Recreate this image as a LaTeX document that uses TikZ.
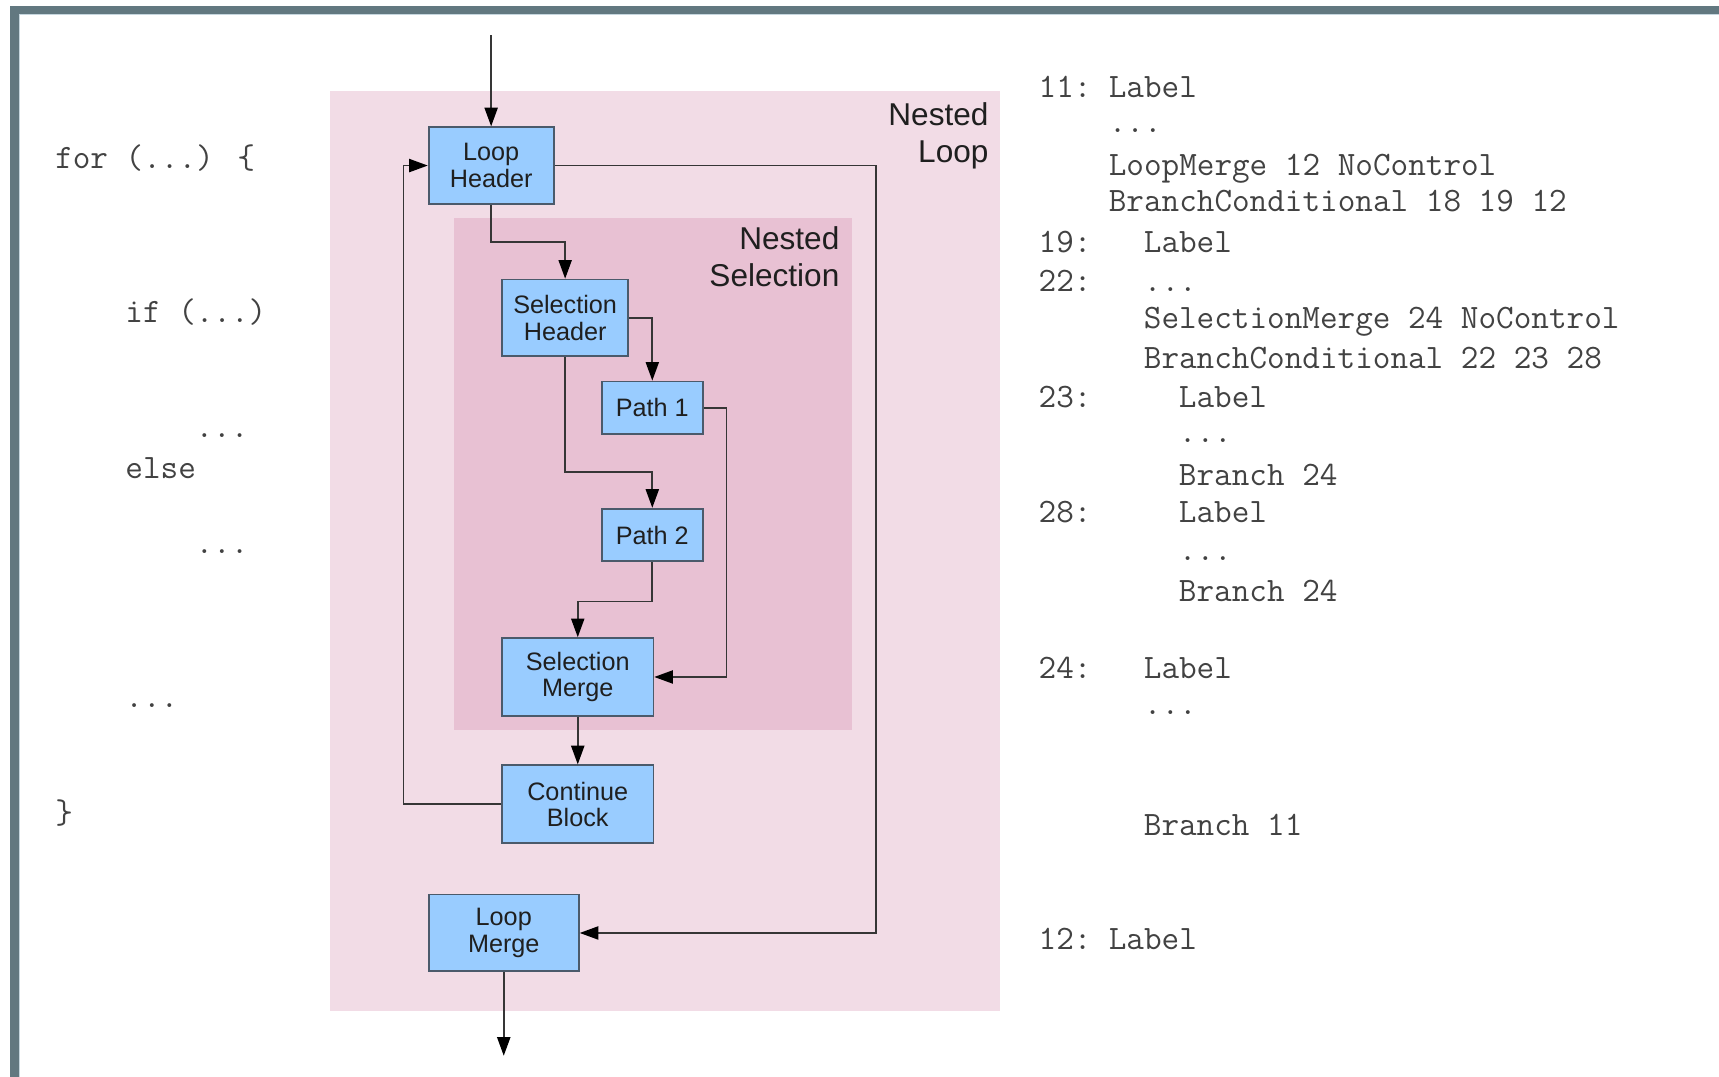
\documentclass[tikz,border=0pt]{standalone}
\usepackage{fontspec}
\setmainfont{Liberation Sans}
\usetikzlibrary{arrows.meta}

\definecolor{framec}{HTML}{627880}
\definecolor{framelight}{HTML}{C6D6DE}
\definecolor{loopbg}{HTML}{F2DCE6}
\definecolor{selbg}{HTML}{E8C1D3}
\definecolor{blockfill}{HTML}{99CCFF}
\definecolor{blockline}{HTML}{4B5A6B}
\definecolor{wire}{HTML}{363636}
\definecolor{codec}{HTML}{424242}

\tikzset{
  block/.style={draw=blockline, line width=0.8pt, fill=blockfill, align=center,
    inner sep=0pt, text=black!88, font=\fontsize{11.5}{12}\selectfont},
  wireline/.style={draw=wire, line width=0.75pt,
    -{Triangle[length=8.5pt,width=6pt,color=black]}},
  regionlabel/.style={align=right, inner sep=0pt, anchor=north east,
    text=black!88, font=\fontsize{14.4}{17}\selectfont},
  code/.style={anchor=base west, inner sep=0pt, text=codec,
    font=\ttfamily\fontsize{15.6}{17}\selectfont}
}

\begin{document}
\begin{tikzpicture}[x=0.5pt,y=-0.5pt]
\useasboundingbox (0,0) rectangle (1568,982);

% window frame
\fill[framec] (9.1,5.2) rectangle (1568,12.8);
\fill[framec] (9.1,5.2) rectangle (17.3,982);
\draw[framelight, line width=0.6pt] (17.3,13.4) -- (1568,13.4);
\draw[framelight, line width=0.6pt] (17.9,13.4) -- (17.9,982);

% regions
\fill[loopbg] (301,83) rectangle (912,922);
\fill[selbg] (414,199) rectangle (777,666);
\node[regionlabel] (looplabel) at (902,93) {Nested\\Loop};
\node[regionlabel] (sellabel) at (766,206) {Nested\\Selection};

% blocks
\node[block, minimum width=57pt, minimum height=35pt] (lh) at (448,151) {Loop\\Header};
\node[block, minimum width=57.5pt, minimum height=35pt] (sh) at (515.5,290) {Selection\\Header};
\node[block, minimum width=46pt, minimum height=24pt] (p1) at (595,372) {Path 1};
\node[block, minimum width=46pt, minimum height=24pt] (p2) at (595,488) {Path 2};
\node[block, minimum width=69pt, minimum height=35.5pt] (sm) at (527,617.5) {Selection\\Merge};
\node[block, minimum width=69pt, minimum height=35.5pt] (cb) at (527,733.5) {Continue\\Block};
\node[block, minimum width=68.5pt, minimum height=35pt] (lm) at (459.5,851) {Loop\\Merge};

% free ends and routing lines
\coordinate (entry) at (448,32);
\coordinate (exit) at (459.5,963);
\coordinate (mergex) at (799,0);

% connectors
\draw[wireline] (entry) -- (lh.north);
\draw[wireline] (lm.south) -- (exit);
\draw[wireline] (lh.east) -- (lh.east -| mergex) -- (lm.east -| mergex) -- (lm.east);
\draw[wireline] (lh.south) -- ++(0,34) -| (sh.north);
\draw[wireline] (sh.east) -| (p1.north);
\draw[wireline] (sh.south) -- ++(0,105) -| (p2.north);
\draw[wireline] (p1.east) -- ++(21,0) |- (sm.east);
\draw[wireline] (p2.south) -- ++(0,36) -| (sm.north);
\draw[wireline] (sm.south) -- (cb.north);
\draw[wireline] (cb.west) -- ++(-89,0) |- (lh.west);

% source code
\node[code] (s1) at (50,154) {for (...) \{};
\node[code] (s2) at (114,294) {if (...)};
\node[code] (s3) at (178,399) {...};
\node[code] (s4) at (114,436) {else};
\node[code] (s5) at (178,505) {...};
\node[code] (s6) at (114,645) {...};
\node[code] (s7) at (50,751) {\}};

% SPIR-V listing
\node[code] (n11) at (947,89) {11:};
\node[code] (c1) at (1011,89) {Label};
\node[code] (c2) at (1011,121) {...};
\node[code] (c3) at (1011,160) {LoopMerge 12 NoControl};
\node[code] (c4) at (1011,193) {BranchConditional 18 19 12};
\node[code] (n19) at (947,230) {19:};
\node[code] (c5) at (1043,230) {Label};
\node[code] (n22) at (947,266) {22:};
\node[code] (c6) at (1043,266) {...};
\node[code] (c7) at (1043,300) {SelectionMerge 24 NoControl};
\node[code] (c8) at (1043,336) {BranchConditional 22 23 28};
\node[code] (n23) at (947,372) {23:};
\node[code] (c9) at (1075,372) {Label};
\node[code] (c10) at (1075,404) {...};
\node[code] (c11) at (1075,443) {Branch 24};
\node[code] (n28) at (947,477) {28:};
\node[code] (c12) at (1075,477) {Label};
\node[code] (c13) at (1075,511) {...};
\node[code] (c14) at (1075,549) {Branch 24};
\node[code] (n24) at (947,619) {24:};
\node[code] (c15) at (1043,619) {Label};
\node[code] (c16) at (1043,652) {...};
\node[code] (c17) at (1043,762) {Branch 11};
\node[code] (n12) at (947,866) {12:};
\node[code] (c18) at (1011,866) {Label};
\end{tikzpicture}
\end{document}
